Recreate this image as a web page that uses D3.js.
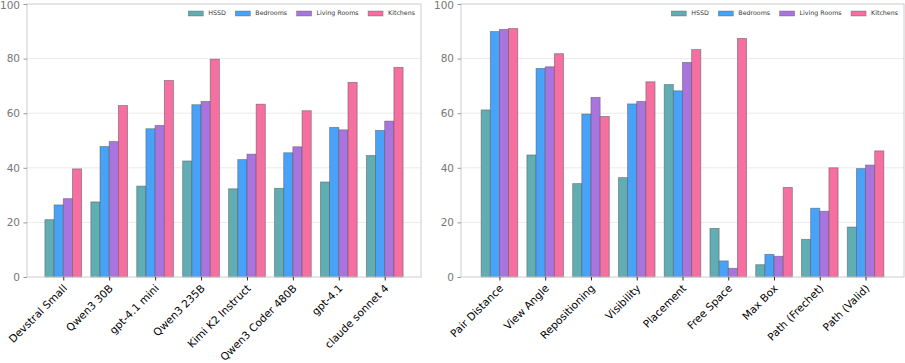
<!DOCTYPE html>
<html><head><meta charset="utf-8">
<script src="https://cdn.jsdelivr.net/npm/d3@7"></script>
<style>body{margin:0;background:#fff}svg{display:block}</style>
</head><body>
<svg id="c" width="905" height="363"></svg>
<script>
const series = ["HSSD", "Bedrooms", "Living Rooms", "Kitchens"];
const colors = ["#60aeb4", "#48a3f8", "#aa74de", "#f56fa0"];

const modelCats = ["Devstral Small", "Qwen3 30B", "gpt-4.1 mini", "Qwen3 235B", "Kimi K2 Instruct", "Qwen3 Coder 480B", "gpt-4.1", "claude sonnet 4"];
const modelHSSD     = [21.0, 27.5, 33.3, 42.5, 32.3, 32.5, 34.8, 44.5];
const modelBedrooms = [26.4, 47.8, 54.3, 63.1, 43.0, 45.5, 54.8, 53.7];
const modelLiving   = [28.7, 49.6, 55.5, 64.3, 45.0, 47.7, 53.9, 57.1];
const modelKitchens = [39.6, 62.8, 72.0, 79.8, 63.3, 60.9, 71.3, 76.8];

const taskCats = ["Pair Distance", "View Angle", "Repositioning", "Visibility", "Placement", "Free Space", "Max Box", "Path (Frechet)", "Path (Valid)"];
const taskHSSD     = [61.2, 44.7, 34.2, 36.4, 70.5, 17.8, 4.5, 13.8, 18.3];
const taskBedrooms = [89.9, 76.4, 59.7, 63.4, 68.2, 5.9, 8.3, 25.2, 39.7];
const taskLiving   = [90.7, 77.0, 65.8, 64.3, 78.6, 3.2, 7.6, 24.1, 41.0];
const taskKitchens = [91.0, 81.8, 58.8, 71.5, 83.3, 87.4, 32.8, 40.0, 46.2];

const yTicks = [0, 20, 40, 60, 80, 100];

const svg = d3.select("#c");
const font = "DejaVu Sans, sans-serif";

function panel(cats, vals, left, right) {
  const top = 4, bottom = 277;
  const n = cats.length;
  const bw = 0.2;
  const dmin = -0.4, dmax = n - 1 + 0.4;
  const m = 0.05 * (dmax - dmin);
  const x = d3.scaleLinear().domain([dmin - m, dmax + m]).range([left, right]);
  const y = d3.scaleLinear().domain([0, 100]).range([bottom, top]);
  const g = svg.append("g");

  g.selectAll("line.grid").data(yTicks.filter(t => t > 0 && t < 100)).join("line")
    .attr("x1", left).attr("x2", right)
    .attr("y1", d => y(d)).attr("y2", d => y(d))
    .attr("stroke", "#e6e6e6").attr("stroke-width", 0.8);

  series.forEach((s, si) => {
    const off = (si - 1.5) * bw;
    g.selectAll("rect.s" + si).data(vals[si]).join("rect")
      .attr("x", (d, i) => x(i + off - bw / 2))
      .attr("width", x(bw) - x(0))
      .attr("y", d => y(d))
      .attr("height", d => y(0) - y(d))
      .attr("fill", colors[si])
      .attr("stroke", "#555").attr("stroke-opacity", 0.6).attr("stroke-width", 0.8);
  });

  g.append("rect").attr("x", left).attr("y", top).attr("width", right - left).attr("height", bottom - top)
    .attr("fill", "none").attr("stroke", "#cccccc").attr("stroke-width", 1);

  const ya = d3.axisLeft(y).tickValues(yTicks).tickSize(3.5).tickPadding(3.5).tickFormat(d3.format("d"));
  const yg = g.append("g").attr("transform", `translate(${left},0)`).call(ya);
  yg.select(".domain").remove();
  yg.selectAll("line").attr("stroke", "#999");
  yg.selectAll("text").attr("fill", "#777").style("font-family", font).style("font-size", "10.5px")
    .attr("dy", d => d === 100 ? "0.4em" : "0.32em");

  const xa = d3.axisBottom(x).tickValues(d3.range(n)).tickSize(3.5).tickFormat(i => cats[i]);
  const xg = g.append("g").attr("transform", `translate(0,${bottom})`).call(xa);
  xg.select(".domain").remove();
  xg.selectAll("line").attr("stroke", "#333");
  xg.selectAll("text")
    .attr("fill", "#000").style("font-family", font).style("font-size", "10.6px")
    .attr("text-anchor", "end")
    .attr("dy", null).attr("y", null)
    .attr("transform", "translate(4,12) rotate(-45)");

  const lg = g.append("g");
  const fs = 6.3;
  let xr = right - 6;
  for (let si = series.length - 1; si >= 0; si--) {
    const t = lg.append("text").text(series[si]).style("font-family", font).style("font-size", fs + "px")
      .attr("fill", "#333").attr("y", 15.3);
    const w = t.node().getComputedTextLength();
    const tx = xr - w;
    t.attr("x", tx);
    lg.append("rect").attr("x", tx - 20).attr("y", 11).attr("width", 15).attr("height", 5)
      .attr("fill", colors[si]).attr("stroke", "#555").attr("stroke-opacity", 0.6).attr("stroke-width", 0.6);
    xr = tx - 20 - 9.5;
  }
}

panel(modelCats, [modelHSSD, modelBedrooms, modelLiving, modelKitchens], 27, 421);
panel(taskCats, [taskHSSD, taskBedrooms, taskLiving, taskKitchens], 461, 904);
</script>
</body></html>
